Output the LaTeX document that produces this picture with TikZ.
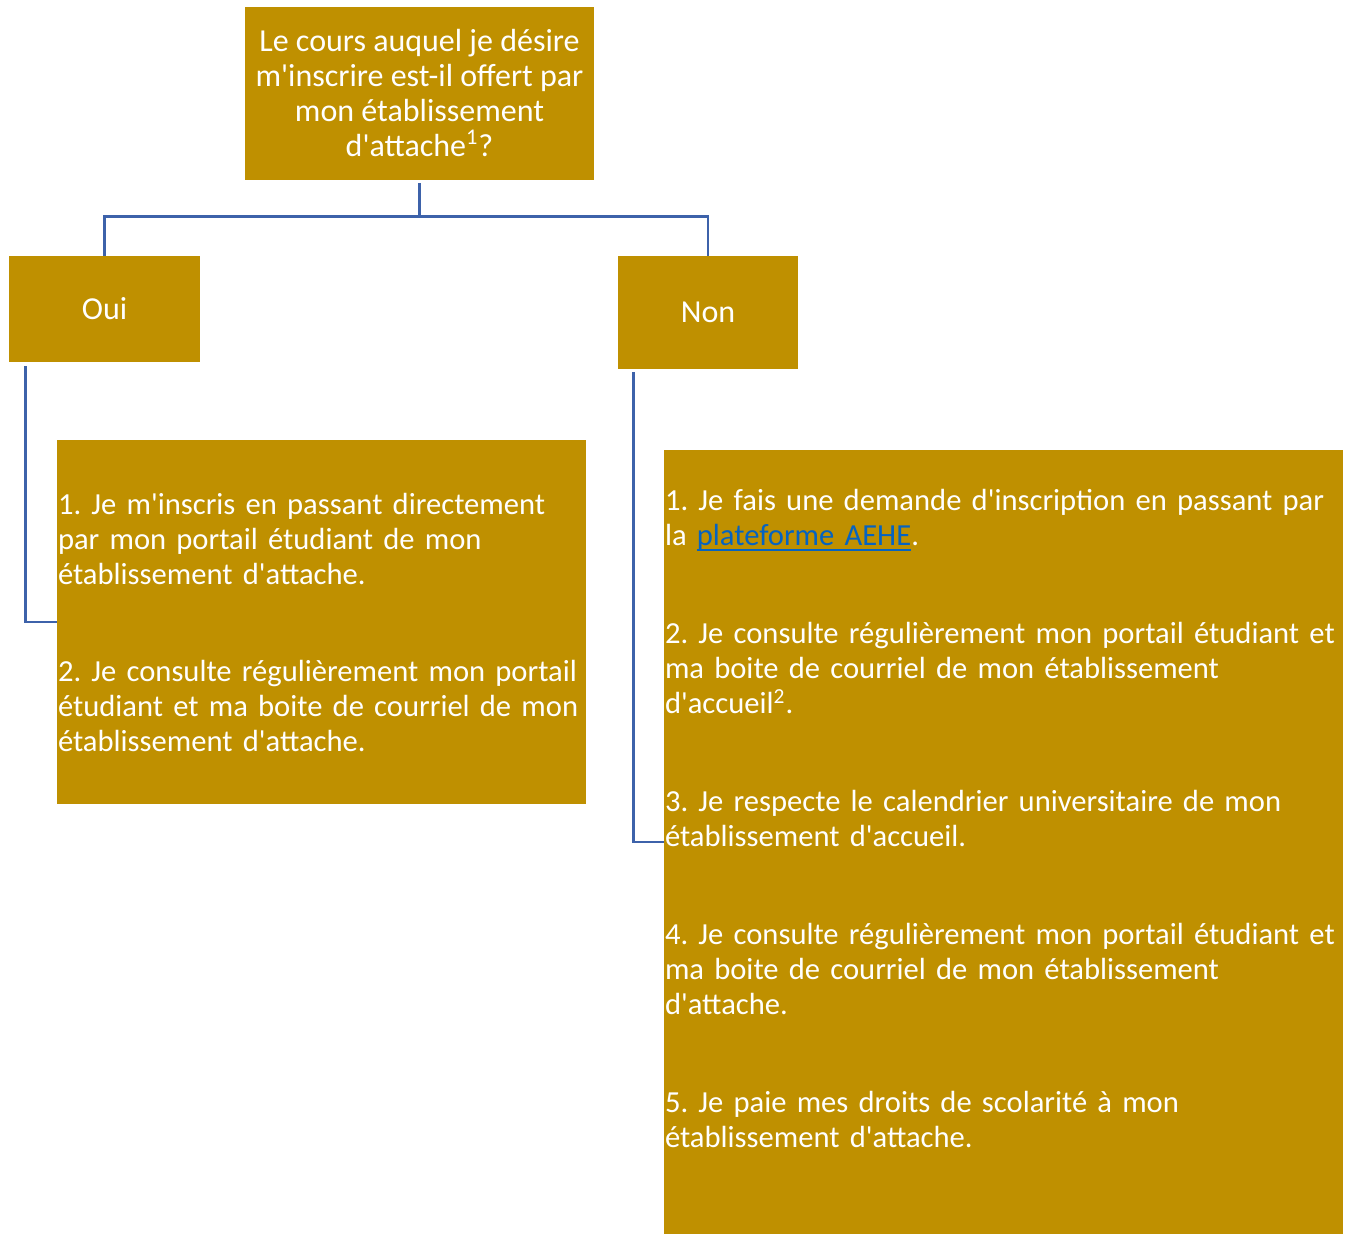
\documentclass[tikz,border=0pt]{standalone}
\usepackage{fontspec}
\setmainfont{Carlito}[Ligatures=TeXOff]
\usepackage{tikz}
\definecolor{gold}{RGB}{191,144,0}
\definecolor{lineblue}{RGB}{61,98,170}
\definecolor{linkblue}{RGB}{5,99,193}
\pgfdeclarelayer{edgelayer}
\pgfdeclarelayer{nodelayer}
\pgfsetlayers{edgelayer,nodelayer,main}
\tikzstyle{box}=[rectangle,fill=gold,text=white,inner sep=0.5pt,font=\frenchspacing\fontsize{16}{17.5}\selectfont]
\tikzstyle{stepbox}=[box,align=left,font=\frenchspacing\fontsize{15.3}{17.5}\selectfont]
\tikzstyle{branch}=[draw=lineblue,line width=1.4pt]
\newcommand{\weblink}[1]{{\color{linkblue}\setbox0\hbox{#1}\rlap{\rule[-2.6pt]{\wd0}{1pt}}\box0}}

\begin{document}
\begin{tikzpicture}[x=0.5pt,y=-0.5pt]
        \useasboundingbox (0,0) rectangle (1353,1234);
        \begin{pgfonlayer}{nodelayer}
            \node [style = box, minimum width=174.5pt, minimum height=86.5pt, align=center] (question) at (419.5, 93.5) {Le cours auquel je désire\\m'inscrire est-il offert par\\mon établissement\\d'attache\textsuperscript{1}?};
            \node [style = box, minimum width=95.5pt, minimum height=53pt] (oui) at (104.5, 309) {Oui};
            \node [style = box, minimum width=90pt, minimum height=56.5pt] (non) at (708, 312.5) {Non};
            \node [style = stepbox, minimum width=264.5pt, minimum height=182pt, text width=263.5pt] (ouisteps) at (321.5, 622) {1. Je m'inscris en passant directement\\par mon portail étudiant de mon\\établissement d'attache.\\[31pt]2. Je consulte régulièrement mon portail\\étudiant et ma boite de courriel de mon\\établissement d'attache.};
            \node [style = stepbox, minimum width=339.5pt, minimum height=392pt, text width=338.5pt] (nonsteps) at (1003.5, 842) {1. Je fais une demande d'inscription en passant par\\la \weblink{plateforme AEHE}.\\[31.5pt]2. Je consulte régulièrement mon portail étudiant et\\ma boite de courriel de mon établissement\\d'accueil\textsuperscript{2}.\\[31.5pt]3. Je respecte le calendrier universitaire de mon\\établissement d'accueil.\\[31.5pt]4. Je consulte régulièrement mon portail étudiant et\\ma boite de courriel de mon établissement\\d'attache.\\[31.5pt]5. Je paie mes droits de scolarité à mon\\établissement d'attache.\\[6pt]\mbox{}};
        \end{pgfonlayer}

        \begin{pgfonlayer}{edgelayer}
            \draw [style = branch] ([yshift=-1.5pt]question.south) -- ++(0,33) -| (oui.north);
            \draw [style = branch] ([yshift=-1.5pt]question.south) -- ++(0,33) -| (non.north);
            \draw [style = branch] ([xshift=8.5pt,yshift=-2pt]oui.south west) |- (ouisteps.west);
            \draw [style = branch] ([xshift=8pt,yshift=-1.5pt]non.south west) |- (nonsteps.west);
        \end{pgfonlayer}
    \end{tikzpicture}
\end{document}
